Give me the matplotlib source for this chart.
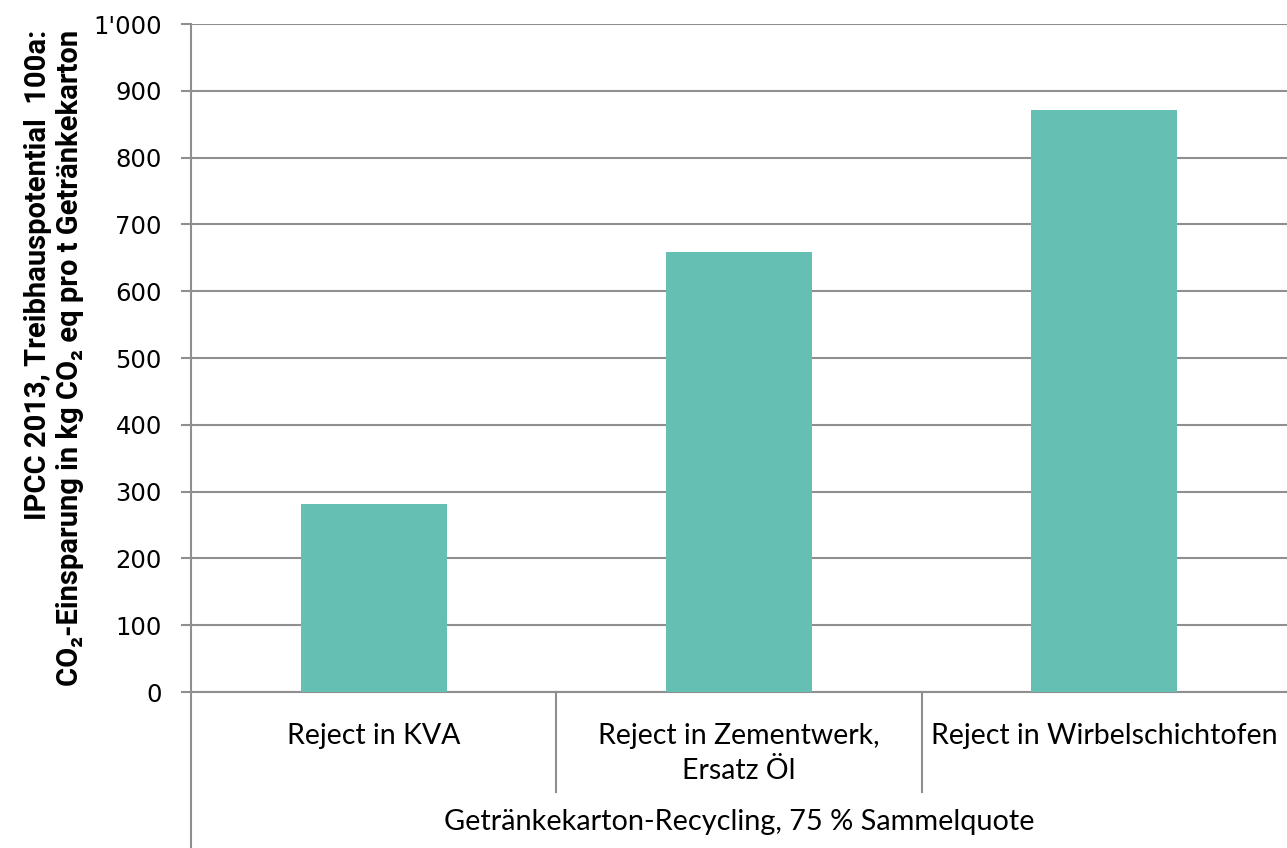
import matplotlib
matplotlib.use("Agg")
import matplotlib.pyplot as plt
import matplotlib.transforms as mtransforms
from matplotlib.ticker import FuncFormatter, MultipleLocator

# values in kg CO2 eq per t beverage cartons
categories = ["Reject in KVA", "Reject in Zementwerk,\nErsatz Öl", "Reject in Wirbelschichtofen"]
savings = [281, 659, 871]
group_label = "Getränkekarton-Recycling, 75 % Sammelquote"
ylabel = ("IPCC 2013, Treibhauspotential  100a:\n"
          "CO₂-Einsparung in kg CO₂ eq pro t Getränkekarton")

bar_color = "#66bfb3"
line_color = "#8f8f8f"
narrow = ["Lato", "DejaVu Sans"]
label_font = ["Roboto", "DejaVu Sans"]

W, H = 1287, 848
fig = plt.figure(figsize=(W / 100, H / 100), dpi=100)
ax = fig.add_axes([191 / W, 1 - 692 / H, (W - 191) / W, (692 - 24) / H])

x = list(range(len(categories)))
ax.bar(x, savings, width=0.4, color=bar_color, zorder=3)

ax.set_xlim(-0.5, len(categories) - 0.5)
ax.set_ylim(0, 1000)
ax.yaxis.set_major_locator(MultipleLocator(100))
ax.yaxis.set_major_formatter(FuncFormatter(lambda v, p: "{:,.0f}".format(v).replace(",", "'")))
ax.grid(axis="y", color=line_color, lw=1.5, zorder=0)
ax.set_xticks([])
ax.tick_params(axis="y", length=7, width=1.5, color=line_color, labelsize=17.5, pad=14)
for lab in ax.get_yticklabels():
    lab.set_fontfamily("DejaVu Sans")

for side in ["top", "right"]:
    ax.spines[side].set_visible(False)
for side in ["left", "bottom"]:
    ax.spines[side].set_color(line_color)
    ax.spines[side].set_linewidth(1.5)

ax.set_ylabel(ylabel, fontsize=21, fontweight="bold", family=label_font, linespacing=1.15,
              multialignment="right")
ax.yaxis.set_label_coords(-0.098, 0.5)

# two-level category axis below the plot
trans = mtransforms.blended_transform_factory(ax.transData, ax.transAxes)
for i, name in enumerate(categories):
    ax.text(i, -0.046, name, transform=trans, ha="center", va="top",
            fontsize=20.5, family=narrow, linespacing=1.45)
for i in range(1, len(categories)):
    ax.plot([i - 0.5, i - 0.5], [0, -0.15], transform=trans, color=line_color,
            lw=1.5, clip_on=False)
ax.plot([-0.5, -0.5], [0, -0.24], transform=trans, color=line_color, lw=1.5, clip_on=False)
ax.text((len(categories) - 1) / 2, -0.195, group_label, transform=trans, ha="center",
        va="center", fontsize=20.8, family=narrow)

fig.savefig("out.png", dpi=100)
